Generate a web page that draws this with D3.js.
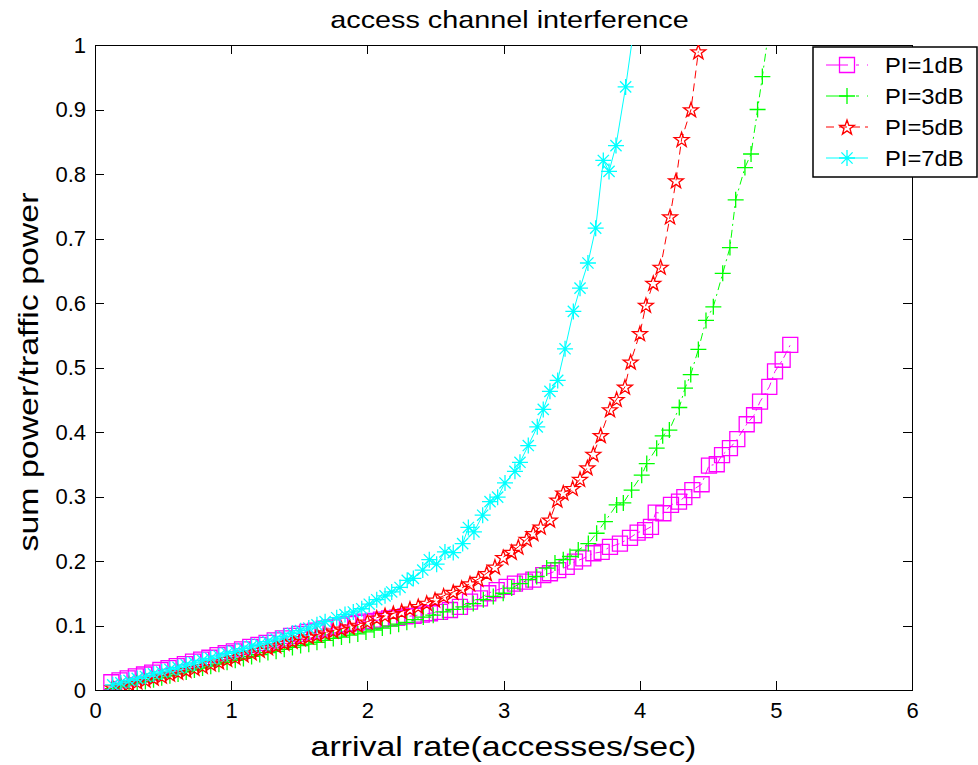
<!DOCTYPE html>
<html lang="en">
<head>
<meta charset="UTF-8">
<title>access channel interference</title>
<script src="https://d3js.org/d3.v7.min.js"></script>
<style>
    body { margin: 0; background: #fff; }
    text { font-family: "Liberation Sans", Arial, sans-serif; fill: #000; }
    .axis path { display: none; }
    .axis line { stroke: #000; shape-rendering: crispEdges; }
    .axis text { font-size: 22px; }
</style>
</head>
<body>
<svg width="978" height="765"></svg>
<script>
    // axis ticks
    var xTicks = [0, 1, 2, 3, 4, 5, 6];
    var yTicks = [0, 0.1, 0.2, 0.3, 0.4, 0.5, 0.6, 0.7, 0.8, 0.9, 1];

    // [arrival rate, sum power/traffic power]
    var pi1 = [[0.12,0.012],[0.18,0.015],[0.24,0.018],[0.30,0.021],[0.36,0.024],[0.42,0.027],[0.48,0.031],
        [0.54,0.034],[0.60,0.037],[0.66,0.040],[0.72,0.044],[0.78,0.047],[0.84,0.050],[0.90,0.054],[0.96,0.057],
        [1.02,0.060],[1.08,0.063],[1.14,0.067],[1.20,0.070],[1.26,0.073],[1.32,0.077],[1.38,0.080],[1.44,0.084],
        [1.50,0.087],[1.56,0.090],[1.62,0.092],[1.68,0.095],[1.74,0.097],[1.80,0.100],[1.86,0.102],[1.92,0.104],
        [1.98,0.106],[2.04,0.107],[2.10,0.109],[2.16,0.111],[2.22,0.112],[2.28,0.114],[2.34,0.115],[2.40,0.117],
        [2.46,0.119],[2.534,0.121],[2.607,0.124],[2.680,0.129],[2.754,0.137],[2.827,0.142],[2.888,0.150],
        [2.950,0.155],[3.023,0.160],[3.084,0.165],[3.158,0.168],[3.219,0.171],[3.292,0.178],[3.341,0.181],
        [3.402,0.186],[3.464,0.191],[3.525,0.199],[3.586,0.204],[3.660,0.212],[3.721,0.214],[3.782,0.222],
        [3.855,0.227],[3.929,0.236],[3.985,0.244],[4.040,0.248],[4.083,0.253],[4.118,0.275],[4.174,0.274],
        [4.230,0.287],[4.289,0.292],[4.328,0.299],[4.387,0.310],[4.455,0.319],[4.509,0.348],[4.566,0.350],
        [4.605,0.364],[4.663,0.375],[4.717,0.389],[4.786,0.412],[4.840,0.426],[4.884,0.447],[4.952,0.470],
        [4.994,0.494],[5.050,0.512],[5.106,0.535]];

    var pi3 = [[0.13,0.002],[0.19,0.005],[0.25,0.008],[0.31,0.011],[0.37,0.013],[0.43,0.016],[0.49,0.019],
        [0.55,0.022],[0.61,0.025],[0.67,0.028],[0.73,0.031],[0.79,0.034],[0.85,0.037],[0.91,0.040],[0.97,0.043],
        [1.03,0.046],[1.09,0.049],[1.15,0.052],[1.21,0.055],[1.27,0.058],[1.33,0.060],[1.39,0.063],[1.45,0.066],
        [1.51,0.069],[1.57,0.071],[1.63,0.074],[1.69,0.077],[1.75,0.080],[1.81,0.082],[1.87,0.085],[1.93,0.087],
        [1.99,0.090],[2.05,0.093],[2.11,0.096],[2.17,0.099],[2.23,0.102],[2.29,0.105],[2.35,0.109],[2.411,0.113],
        [2.484,0.116],[2.558,0.121],[2.631,0.125],[2.705,0.129],[2.778,0.134],[2.852,0.140],[2.925,0.145],
        [2.998,0.150],[3.060,0.158],[3.121,0.165],[3.182,0.171],[3.244,0.176],[3.317,0.189],[3.378,0.197],
        [3.439,0.202],[3.488,0.207],[3.549,0.217],[3.623,0.227],[3.684,0.243],[3.745,0.261],[3.831,0.287],
        [3.880,0.290],[3.941,0.310],[4.015,0.333],[4.052,0.351],[4.125,0.375],[4.169,0.394],[4.218,0.403],
        [4.291,0.438],[4.333,0.468],[4.375,0.489],[4.431,0.528],[4.487,0.573],[4.541,0.594],[4.610,0.646],
        [4.663,0.686],[4.705,0.760],[4.773,0.810],[4.818,0.831],[4.866,0.900],[4.901,0.951],[4.96,1.04]];

    var pi5 = [[0.13,0.004],[0.19,0.007],[0.25,0.010],[0.31,0.013],[0.37,0.016],[0.43,0.019],[0.49,0.022],
        [0.55,0.025],[0.61,0.028],[0.67,0.031],[0.73,0.034],[0.79,0.037],[0.85,0.041],[0.91,0.044],[0.97,0.048],
        [1.03,0.051],[1.09,0.055],[1.15,0.058],[1.21,0.062],[1.27,0.066],[1.33,0.069],[1.39,0.073],[1.45,0.076],
        [1.51,0.080],[1.57,0.083],[1.63,0.086],[1.69,0.089],[1.75,0.092],[1.81,0.095],[1.87,0.098],[1.93,0.101],
        [2.00,0.106],[2.069,0.112],[2.13,0.116],[2.191,0.119],[2.252,0.122],[2.313,0.126],[2.374,0.130],
        [2.436,0.135],[2.497,0.140],[2.56,0.146],[2.631,0.152],[2.693,0.158],[2.754,0.165],[2.815,0.172],
        [2.877,0.181],[2.937,0.191],[2.998,0.206],[3.060,0.214],[3.109,0.222],[3.170,0.234],[3.219,0.243],
        [3.273,0.253],[3.341,0.264],[3.395,0.295],[3.439,0.306],[3.508,0.313],[3.562,0.327],[3.616,0.345],
        [3.660,0.366],[3.714,0.395],[3.782,0.435],[3.831,0.451],[3.892,0.470],[3.934,0.509],[4.002,0.553],
        [4.046,0.597],[4.100,0.631],[4.154,0.656],[4.223,0.734],[4.267,0.790],[4.308,0.854],[4.377,0.900],
        [4.431,0.990]];

    var pi7 = [[0.13,0.008],[0.19,0.011],[0.25,0.015],[0.31,0.018],[0.37,0.021],[0.43,0.025],[0.49,0.028],
        [0.55,0.032],[0.61,0.035],[0.67,0.039],[0.73,0.042],[0.79,0.046],[0.85,0.049],[0.91,0.053],[0.97,0.057],
        [1.03,0.060],[1.09,0.064],[1.15,0.068],[1.21,0.071],[1.27,0.075],[1.33,0.079],[1.39,0.083],[1.45,0.088],
        [1.51,0.092],[1.57,0.096],[1.63,0.101],[1.69,0.106],[1.775,0.112],[1.836,0.117],[1.897,0.121],
        [1.959,0.126],[2.014,0.133],[2.069,0.140],[2.13,0.146],[2.179,0.152],[2.24,0.159],[2.293,0.170],
        [2.338,0.173],[2.407,0.186],[2.455,0.202],[2.509,0.195],[2.570,0.214],[2.631,0.213],[2.70,0.227],
        [2.742,0.252],[2.783,0.245],[2.847,0.271],[2.901,0.292],[2.957,0.299],[3.011,0.321],[3.084,0.339],
        [3.121,0.353],[3.182,0.379],[3.248,0.408],[3.292,0.435],[3.341,0.463],[3.398,0.480],[3.452,0.529],
        [3.513,0.587],[3.562,0.623],[3.62,0.662],[3.677,0.716],[3.733,0.821],[3.775,0.804],[3.826,0.844],
        [3.897,0.935],[3.96,1.03]];

    var seriesNames = ["PI=1dB", "PI=3dB", "PI=5dB", "PI=7dB"];
    var seriesData = [pi1, pi3, pi5, pi7];
    var colors = ["#ff00ff", "#00ff00", "#ff0000", "#00ffff"];
    var dashes = ["8,4,2,4", "8,4,2,4", "8,5", null];
    var markers = ["square", "plus", "pentagram", "asterisk"];

    var padding = { top: 45, right: 66, bottom: 75, left: 95 };
    var w = 978, h = 765;

    var svg = d3.select("svg");

    var x = d3.scaleLinear().domain([0, 6]).range([padding.left, w - padding.right]);
    var y = d3.scaleLinear().domain([0, 1]).range([h - padding.bottom, padding.top]);

    // marker shapes, centred on 0,0
    function markerPath(type) {
        if (type === "square") return "M-7.5,-7.5H7.5V7.5H-7.5Z";
        if (type === "plus") return "M-8,0H8M0,-8V8";
        if (type === "asterisk") return "M-8,0H8M0,-8V8M-5.6,-5.6L5.6,5.6M-5.6,5.6L5.6,-5.6";
        var pts = d3.range(10).map(function(i) {
            var r = i % 2 === 0 ? 7.8 : 3.1;
            var a = -Math.PI / 2 + i * Math.PI / 5;
            return [r * Math.cos(a), r * Math.sin(a) + 0.8];
        });
        return "M" + pts.join("L") + "Z";
    }

    svg.append("clipPath").attr("id", "plotclip")
        .append("rect")
        .attr("x", x(0)).attr("y", y(1))
        .attr("width", x(6) - x(0)).attr("height", y(0) - y(1));

    // axes with inward ticks on all four sides
    svg.append("g")
        .attr("class", "x axis")
        .attr("transform", "translate(0," + y(0) + ")")
        .call(d3.axisBottom(x).tickValues(xTicks).tickSize(-9).tickPadding(12).tickFormat(d3.format("d")));
    svg.append("g")
        .attr("class", "axis")
        .attr("transform", "translate(0," + y(1) + ")")
        .call(d3.axisTop(x).tickValues(xTicks).tickSize(-9).tickFormat(""));
    svg.append("g")
        .attr("class", "y axis")
        .attr("transform", "translate(" + x(0) + ",0)")
        .call(d3.axisLeft(y).tickValues(yTicks).tickSize(-9).tickPadding(9).tickFormat(function(d) { return String(d); }));
    svg.append("g")
        .attr("class", "axis")
        .attr("transform", "translate(" + x(6) + ",0)")
        .call(d3.axisRight(y).tickValues(yTicks).tickSize(-9).tickFormat(""));

    svg.append("rect")
        .attr("x", x(0)).attr("y", y(1))
        .attr("width", x(6) - x(0)).attr("height", y(0) - y(1))
        .attr("fill", "none").attr("stroke", "#000").attr("stroke-width", 1)
        .attr("shape-rendering", "crispEdges");

    var line = d3.line().x(function(d) { return x(d[0]); }).y(function(d) { return y(d[1]); });

    var plot = svg.append("g").attr("clip-path", "url(#plotclip)");

    seriesData.forEach(function(data, i) {
        plot.append("path")
            .datum(data)
            .attr("d", line)
            .attr("fill", "none")
            .attr("stroke", colors[i])
            .attr("stroke-width", 1)
            .attr("stroke-dasharray", dashes[i]);
        plot.append("g").selectAll("path")
            .data(data)
            .enter().append("path")
            .attr("d", markerPath(markers[i]))
            .attr("transform", function(d) { return "translate(" + x(d[0]) + "," + y(d[1]) + ")"; })
            .attr("fill", "none")
            .attr("stroke", colors[i])
            .attr("stroke-width", 1.3);
    });

    // title and axis labels (the original font renders wider than Liberation Sans)
    var cx = (x(0) + x(6)) / 2;
    svg.append("text")
        .attr("transform", "translate(" + (cx + 6) + ",28) scale(1.2,1)")
        .attr("text-anchor", "middle")
        .style("font-size", "24px")
        .text("access channel interference");
    svg.append("text")
        .attr("transform", "translate(" + cx + ",756) scale(1.21,1)")
        .attr("text-anchor", "middle")
        .style("font-size", "28px")
        .text("arrival rate(accesses/sec)");
    svg.append("text")
        .attr("transform", "translate(38,372) rotate(-90) scale(1.21,1)")
        .attr("text-anchor", "middle")
        .style("font-size", "28px")
        .text("sum power/traffic power");

    // legend
    var legend = svg.append("g");
    legend.append("rect")
        .attr("x", 813).attr("y", 47).attr("width", 164).attr("height", 130)
        .attr("fill", "#fff").attr("stroke", "#000").attr("stroke-width", 1.5);
    seriesNames.forEach(function(name, i) {
        var ly = 65 + i * 31;
        legend.append("line")
            .attr("x1", 826).attr("x2", 868).attr("y1", ly).attr("y2", ly)
            .attr("stroke", colors[i]).attr("stroke-width", 1)
            .attr("stroke-dasharray", i < 2 ? "22,8,3,8" : (i === 2 ? "8,5" : null));
        legend.append("path")
            .attr("d", markerPath(markers[i]))
            .attr("transform", "translate(847," + ly + ")")
            .attr("fill", "none").attr("stroke", colors[i]).attr("stroke-width", 1.3);
        legend.append("text")
            .attr("transform", "translate(885," + (ly + 8) + ") scale(1.08,1)")
            .style("font-size", "22px")
            .text(name);
    });
</script>
</body>
</html>
